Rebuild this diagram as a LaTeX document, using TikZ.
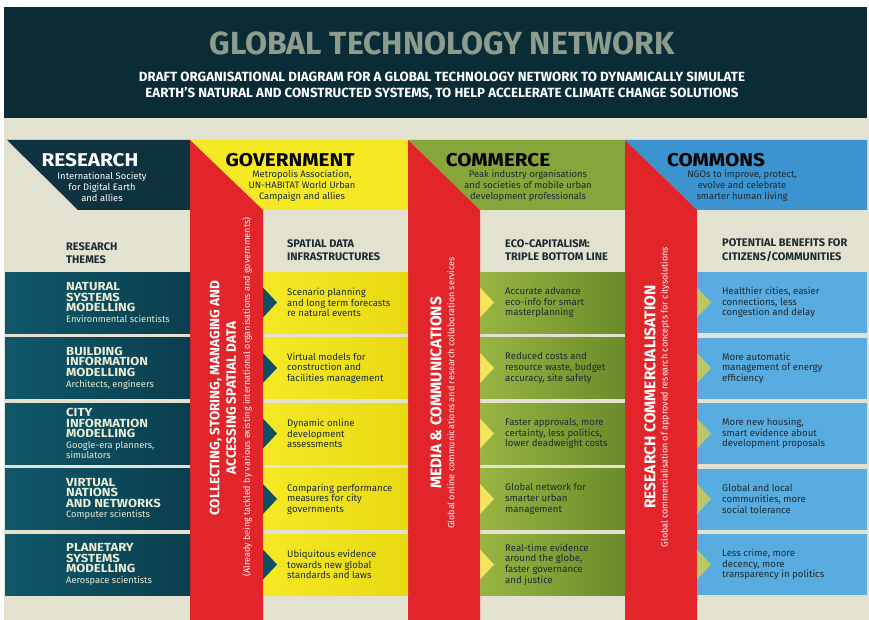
\documentclass[tikz,border=0pt]{standalone}
\usepackage{fontspec}
\setmainfont{Fira Sans}
\newfontfamily\wideFont[FakeStretch=1.12]{Fira Sans}
\usetikzlibrary{positioning}

\definecolor{headDark}{RGB}{10,44,54}
\definecolor{titleGrey}{RGB}{141,156,141}
\definecolor{paper}{RGB}{227,225,208}
\definecolor{researchDark}{RGB}{14,50,63}
\definecolor{themeTeal}{RGB}{15,88,106}
\definecolor{themeTealDark}{RGB}{10,62,78}
\definecolor{bandRed}{RGB}{226,37,43}
\definecolor{govYellow}{RGB}{245,233,36}
\definecolor{govYellowDark}{RGB}{233,217,18}
\definecolor{comGreen}{RGB}{134,165,58}
\definecolor{comGreenLight}{RGB}{152,181,66}
\definecolor{comGreenDark}{RGB}{106,139,42}
\definecolor{cmnBlue}{RGB}{59,147,207}
\definecolor{cmnBlueLight}{RGB}{89,172,224}
\definecolor{inkDark}{RGB}{27,43,50}
\definecolor{themeCream}{RGB}{233,236,214}
\definecolor{govTipCol}{RGB}{14,80,98}
\definecolor{comTipCol}{RGB}{242,228,92}
\definecolor{cmnTipCol}{RGB}{186,200,104}

\begin{document}
\begin{tikzpicture}
[x=1pt,y=-1pt,
  rowBox/.style={minimum height=61pt,inner sep=0pt,outer sep=0pt},
  themeRow/.style={rowBox,minimum width=185pt,left color=themeTeal,right color=themeTealDark},
  govRow/.style={rowBox,minimum width=145pt,left color=govYellow,right color=govYellowDark},
  comRow/.style={rowBox,minimum width=145pt,left color=comGreenLight,right color=comGreenDark},
  cmnRow/.style={rowBox,minimum width=170pt,fill=cmnBlueLight},
  rowText/.style={anchor=west,align=left,inner sep=0pt,text=inkDark,font=\fontsize{9.6}{10.6}\selectfont},
  themeText/.style={anchor=west,align=left,inner sep=0pt,text=themeCream,font=\wideFont\bfseries\fontsize{11.7}{10.6}\selectfont},
  colHead/.style={inner sep=0pt,font=\wideFont\bfseries\fontsize{18.5}{20}\selectfont},
  colSub/.style={align=center,inner sep=0pt,font=\fontsize{9.4}{10.8}\selectfont},
  colTheme/.style={anchor=west,align=left,inner sep=0pt,text=inkDark,font=\bfseries\fontsize{11}{13.5}\selectfont},
  bandTitle/.style={rotate=90,align=center,inner sep=0pt,text=white,font=\bfseries\fontsize{13.5}{16.5}\selectfont},
  bandNote/.style={rotate=90,inner sep=0pt,text=white,font=\fontsize{9}{10}\selectfont}]
\useasboundingbox (0,0) rectangle (869,620);
\fill[white] (0,0) rectangle (869,620);
\fill[paper] (4,118) rectangle (869,620);

%% title bar
\fill[headDark] (4,7) rectangle (867,118);
\node[text=titleGrey,font=\bfseries\fontsize{32}{33}\selectfont] (title) at (442,43) {GLOBAL TECHNOLOGY NETWORK};
\node[text=white,align=center,font=\bfseries\fontsize{13.3}{15.8}\selectfont] (subtitle) at (442,86)
  {DRAFT ORGANISATIONAL DIAGRAM FOR A GLOBAL TECHNOLOGY NETWORK TO DYNAMICALLY SIMULATE\\
   EARTH'S NATURAL AND CONSTRUCTED SYSTEMS, TO HELP ACCELERATE CLIMATE CHANGE SOLUTIONS};

%% column heads and red bands
\fill[researchDark] (7,140) -- (190,140) -- (190,210) -- (78,210) -- cycle;
\fill[govYellow] (190,140) -- (408,140) -- (408,210) -- (263,210) -- cycle;
\fill[comGreen] (408,140) -- (625,140) -- (625,210) -- (480,210) -- cycle;
\fill[cmnBlue] (625,140) -- (867,140) -- (867,210) -- (697,210) -- cycle;
\foreach \xa/\xb in {190/263, 408/480, 625/697}
{
  \fill[bandRed] (\xa,140) -- (\xb,210) -- (\xb,620) -- (\xa,620) -- cycle;
}

\node[colHead,text=white] (research) at (90,160) {RESEARCH};
\node[colSub,text=white] (researchWho) at (102,187) {International Society\\for Digital Earth\\and allies};
\node[colHead,text=black] (government) at (290,160) {GOVERNMENT};
\node[colSub,text=inkDark] (governmentWho) at (302,186) {Metropolis Association,\\UN-HABITAT World Urban\\Campaign and allies};
\node[colHead,text=black] (commerce) at (498,160) {COMMERCE};
\node[colSub,text=inkDark] (commerceWho) at (528,186) {Peak industry organisations\\and societies of mobile urban\\development professionals};
\node[colHead,text=black] (commons) at (716,160) {COMMONS};
\node[colSub,text=inkDark] (commonsWho) at (742,186) {NGOs to improve, protect,\\evolve and celebrate\\smarter human living};

\node[colTheme] (themes) at (66,253) {RESEARCH\\THEMES};
\node[colTheme] (govTheme) at (287,250) {SPATIAL DATA\\INFRASTRUCTURES};
\node[colTheme] (comTheme) at (505,250) {ECO-CAPITALISM:\\TRIPLE BOTTOM LINE};
\node[colTheme] (cmnTheme) at (722,250) {POTENTIAL BENEFITS FOR\\CITIZENS/COMMUNITIES};

%% row boxes and tips
\foreach \row in {1,...,5}
{
  \pgfmathsetmacro{\yc}{302.5+65.5*(\row-1)}
  \node[themeRow] (theme\row) at (97.5,\yc) {};
  \node[govRow] (gov\row) at (335.5,\yc) {};
  \node[comRow] (com\row) at (552.5,\yc) {};
  \node[cmnRow] (cmn\row) at (782,\yc) {};
  \fill[govTipCol] (gov\row.west) ++(0,-15) -- ++(14,15) -- ++(-14,15) -- cycle;
  \fill[comTipCol] (com\row.west) ++(0,-15) -- ++(14,15) -- ++(-14,15) -- cycle;
  \fill[cmnTipCol] (cmn\row.west) ++(0,-15) -- ++(14,15) -- ++(-14,15) -- cycle;
}

%% row texts
\foreach \row/\txt in {
  1/{NATURAL\\SYSTEMS\\MODELLING\\{\normalfont\fontsize{9.3}{10.4}\selectfont Environmental scientists}},
  2/{BUILDING\\INFORMATION\\MODELLING\\{\normalfont\fontsize{9.3}{10.4}\selectfont Architects, engineers}},
  3/{CITY\\INFORMATION\\MODELLING\\{\normalfont\fontsize{9.3}{10.4}\selectfont Google-era planners,}\\{\normalfont\fontsize{9.3}{10.4}\selectfont simulators}},
  4/{VIRTUAL\\NATIONS\\AND NETWORKS\\{\normalfont\fontsize{9.3}{10.4}\selectfont Computer scientists}},
  5/{PLANETARY\\SYSTEMS\\MODELLING\\{\normalfont\fontsize{9.3}{10.4}\selectfont Aerospace scientists}}}
{
  \node[themeText] (themeText\row) at ([xshift=61pt]theme\row.west) {\txt};
}
\foreach \row/\txt in {
  1/{Scenario planning\\and long term forecasts\\re natural events},
  2/{Virtual models for\\construction and\\facilities management},
  3/{Dynamic online\\development\\assessments},
  4/{Comparing performance\\measures for city\\governments},
  5/{Ubiquitous evidence\\towards new global\\standards and laws}}
{
  \node[rowText] (govText\row) at ([xshift=24pt]gov\row.west) {\txt};
}
\foreach \row/\txt in {
  1/{Accurate advance\\eco-info for smart\\masterplanning},
  2/{Reduced costs and\\resource waste, budget\\accuracy, site safety},
  3/{Faster approvals, more\\certainty, less politics,\\lower deadweight costs},
  4/{Global network for\\smarter urban\\management},
  5/{Real-time evidence\\around the globe,\\faster governance\\and justice}}
{
  \node[rowText] (comText\row) at ([xshift=25pt]com\row.west) {\txt};
}
\foreach \row/\txt in {
  1/{Healthier cities, easier\\connections, less\\congestion and delay},
  2/{More automatic\\management of energy\\efficiency},
  3/{More new housing,\\smart evidence about\\development proposals},
  4/{Global and local\\communities, more\\social tolerance},
  5/{Less crime, more\\decency, more\\transparency in politics}}
{
  \node[rowText] (cmnText\row) at ([xshift=25pt]cmn\row.west) {\txt};
}

%% band texts
\node[bandTitle] (govBand) at (223,398) {COLLECTING, STORING, MANAGING AND\\ACCESSING SPATIAL DATA};
\node[bandNote] (govNote) at (247,397) {(Already being tackled by various existing international organisations and governments)};
\node[bandTitle,font=\bfseries\fontsize{15.5}{17}\selectfont] (comBand) at (436,393) {MEDIA \& COMMUNICATIONS};
\node[bandNote] (comNote) at (451,393) {Global online communications and research collaboration services};
\node[bandTitle,font=\bfseries\fontsize{15.5}{17}\selectfont] (cmnBand) at (650,397) {RESEARCH COMMERCIALISATION};
\node[bandNote] (cmnNote) at (665,397) {Global commercialisation of approved research concepts for citysolutions};
\end{tikzpicture}
\end{document}
